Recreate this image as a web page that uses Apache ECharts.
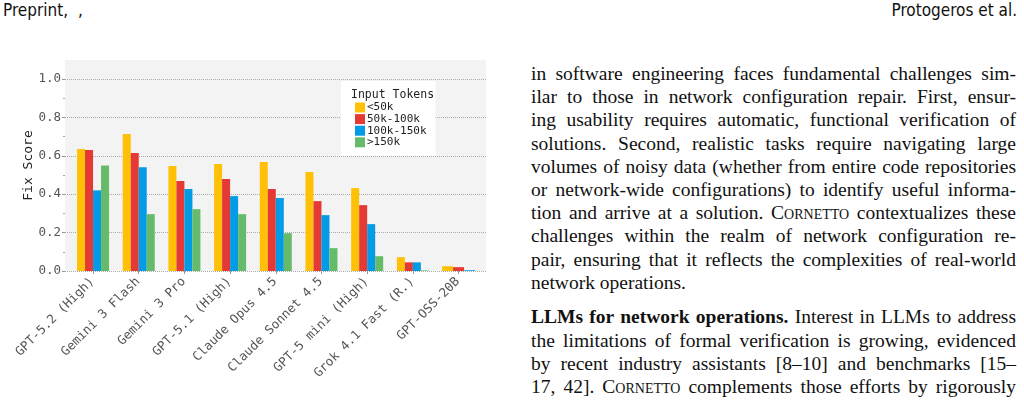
<!DOCTYPE html>
<html>
<head>
<meta charset="utf-8">
<script src="https://cdn.jsdelivr.net/npm/echarts@6/dist/echarts.min.js"></script>
<style>
  html, body { margin: 0; padding: 0; background: #fff; }
  body { width: 1024px; height: 405px; position: relative; overflow: hidden; }
  #chart { position: absolute; left: 0; top: 0; width: 500px; height: 405px; }
  .head { position: absolute; top: 0; font-family: 'Liberation Sans Narrow', 'DejaVu Sans Condensed', 'Liberation Sans', sans-serif; font-size: 17px; color: #111; line-height: 20px; word-spacing: 5px; }
  #col { position: absolute; left: 531px; top: 62px; width: 485px; font-family: 'Liberation Serif', 'DejaVu Serif', serif; font-size: 19.5px; color: #111; }
  #col .l { line-height: 23.2px; height: 23.2px; white-space: nowrap; text-align: justify; text-align-last: justify; }
  #col .e { text-align: left; text-align-last: left; }
  #col .p2 { margin-top: 11.5px; }
  .sc { font-variant: small-caps; }
</style>
</head>
<body>
<div class="head" style="left:3px;">Preprint, ,</div>
<div class="head" style="right:7px; word-spacing: 0;">Protogeros et al.</div>
<div id="chart"></div>
<div id="col">
  <div class="l">in software engineering faces fundamental challenges sim-</div>
  <div class="l">ilar to those in network configuration repair. First, ensur-</div>
  <div class="l">ing usability requires automatic, functional verification of</div>
  <div class="l">solutions. Second, realistic tasks require navigating large</div>
  <div class="l">volumes of noisy data (whether from entire code repositories</div>
  <div class="l">or network-wide configurations) to identify useful informa-</div>
  <div class="l">tion and arrive at a solution. <span class="sc">Cornetto</span> contextualizes these</div>
  <div class="l">challenges within the realm of network configuration re-</div>
  <div class="l">pair, ensuring that it reflects the complexities of real-world</div>
  <div class="l e">network operations.</div>
  <div class="l p2"><b>LLMs for network operations.</b> Interest in LLMs to address</div>
  <div class="l">the limitations of formal verification is growing, evidenced</div>
  <div class="l">by recent industry assistants [8–10] and benchmarks [15–</div>
  <div class="l">17, 42]. <span class="sc">Cornetto</span> complements those efforts by rigorously</div>
</div>
<script>
// models on the x axis
const models = ['GPT-5.2 (High)', 'Gemini 3 Flash', 'Gemini 3 Pro', 'GPT-5.1 (High)', 'Claude Opus 4.5',
    'Claude Sonnet 4.5', 'GPT-5 mini (High)', 'Grok 4.1 Fast (R.)', 'GPT-OSS-20B'];
const tokenBins = ['<50k', '50k-100k', '100k-150k', '>150k'];
const binColors = ['#FFC107', '#E53935', '#039BE5', '#66BB6A'];

// fix score per input token bin (null = no tasks in that bin)
const under50k = [0.636, 0.714, 0.547, 0.557, 0.568, 0.516, 0.432, 0.072, 0.025];
const from50kTo100k = [0.630, 0.615, 0.469, 0.479, 0.427, 0.364, 0.343, 0.045, 0.020];
const from100kTo150k = [0.420, 0.540, 0.427, 0.390, 0.380, 0.291, 0.244, 0.045, 0.004];
const over150k = [0.550, 0.296, 0.322, 0.296, 0.197, 0.119, 0.077, 0.003, null];

const yTicks = [0, 0.2, 0.4, 0.6, 0.8, 1.0];

const binValues = [under50k, from50kTo100k, from100kTo150k, over150k];
const mono = 'DejaVu Sans Mono';

// a model is "full" when every bin has a value, otherwise the bars share the group width
const full = models.map((m, i) => binValues.every(v => v[i] != null));

const series = [];
binValues.forEach((vals, k) => {
    series.push({
        name: tokenBins[k],
        type: 'bar',
        xAxisIndex: 2,
        yAxisIndex: 2,
        barWidth: 8,
        barGap: '0%',
        itemStyle: { color: binColors[k] },
        data: vals.map((v, i) => full[i] ? v : '-')
    });
});
binValues.forEach((vals, k) => {
    const part = vals.map((v, i) => (!full[i] && v != null) ? v : '-');
    if (part.every(v => v === '-')) return;
    series.push({
        name: tokenBins[k],
        type: 'bar',
        xAxisIndex: 3,
        yAxisIndex: 2,
        barWidth: 11,
        barGap: '0%',
        itemStyle: { color: binColors[k] },
        data: part
    });
});

const chart = echarts.init(document.getElementById('chart'));
chart.setOption({
    animation: false,
    title: {
        text: 'Input Tokens',
        left: 346,
        top: 84,
        textStyle: { fontFamily: mono, fontSize: 11.5, fontWeight: 'normal', color: '#222' }
    },
    legend: {
        data: tokenBins,
        orient: 'vertical',
        left: 341,
        top: 81,
        backgroundColor: '#fff',
        padding: [21, 9, 8, 14],
        itemWidth: 10,
        itemHeight: 10,
        itemGap: 0.6,
        icon: 'rect',
        selectedMode: false,
        textStyle: { fontFamily: mono, fontSize: 11, color: '#222', lineHeight: 10, padding: [0, 0, 0, -3] }
    },
    grid: [
        // plot background
        { left: 65, right: 14, top: 60, bottom: 134, show: true, backgroundColor: '#f3f3f3', borderWidth: 0 },
        // y axis + gridlines
        { left: 65, right: 14, top: 79, bottom: 134 },
        // bars
        { left: 70.2, width: 411.2, top: 79, bottom: 134 }
    ],
    xAxis: [
        { gridIndex: 0, type: 'value', show: false },
        { gridIndex: 1, type: 'value', show: false },
        {
            gridIndex: 2,
            type: 'category',
            data: models,
            axisLine: { show: false },
            axisTick: { show: true, alignWithLabel: true, length: 3, lineStyle: { color: '#999' } },
            axisLabel: {
                interval: 0, rotate: 45, margin: 8, padding: [0, 1, 0, 0],
                fontFamily: mono, fontSize: 12.5, color: '#555'
            }
        },
        { gridIndex: 2, type: 'category', data: models, show: false }
    ],
    yAxis: [
        {
            gridIndex: 0,
            type: 'value',
            name: 'Fix Score',
            nameLocation: 'middle',
            nameGap: 30,
            nameTextStyle: { fontFamily: mono, fontSize: 13, color: '#222' },
            axisLine: { show: false },
            axisTick: { show: false },
            axisLabel: { show: false },
            splitLine: { show: false }
        },
        {
            gridIndex: 1,
            type: 'value',
            min: yTicks[0],
            max: yTicks[yTicks.length - 1],
            interval: 0.2,
            axisLine: { show: false },
            axisTick: { show: true, length: 3, lineStyle: { color: '#999' } },
            minorTick: { show: true, splitNumber: 2, length: 2, lineStyle: { color: '#aaa' } },
            axisLabel: {
                margin: 4, fontFamily: mono, fontSize: 12.5, color: '#555',
                formatter: v => v.toFixed(1)
            },
            splitLine: { show: true, lineStyle: { color: '#aaa', type: 'dotted', width: 1 } }
        },
        { gridIndex: 2, type: 'value', min: 0, max: 1, show: false }
    ],
    series: series
});
</script>
</body>
</html>
